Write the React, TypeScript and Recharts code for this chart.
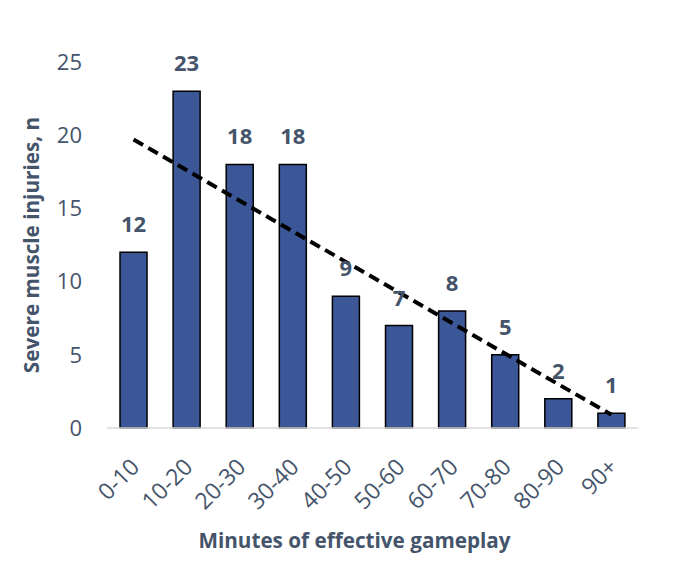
import React from 'react'
import { ComposedChart, Bar, Line, XAxis, YAxis, LabelList, Label } from 'recharts'

const categories = ['0-10', '10-20', '20-30', '30-40', '40-50', '50-60', '60-70', '70-80', '80-90', '90+']
const injuries = [12, 23, 18, 18, 9, 7, 8, 5, 2, 1]
// linear trend, read at its two ends; drawn straight between them
const trend: (number | null)[] = [19.7, null, null, null, null, null, null, null, null, 0.9]
const yTicks = [0, 5, 10, 15, 20, 25]

const TEXT = '#44546A'
const FONT = '"Open Sans", Calibri, sans-serif'

const data = categories.map((name, i) => ({ name, injuries: injuries[i], trend: trend[i] }))

function XTick({ x, y, payload }: any) {
  const ax = x + 1
  const ay = y + 26
  return (
    <text
      x={ax}
      y={ay}
      transform={`rotate(-45 ${ax} ${ay})`}
      textAnchor="end"
      dominantBaseline="central"
      fill={TEXT}
      fontSize={23}
      fontFamily={FONT}
    >
      {payload.value}
    </text>
  )
}

export default function App() {
  return (
    <div style={{ position: 'absolute', left: 0, top: 0, background: '#fff' }}>
      <ComposedChart
        width={680}
        height={584}
        data={data}
        margin={{ top: 62, right: 42, bottom: 0, left: 0 }}
        barCategoryGap="24.5%"
      >
        <XAxis
          dataKey="name"
          height={156}
          tick={<XTick />}
          tickLine={false}
          axisLine={{ stroke: '#D9D9D9', strokeWidth: 1.5 }}
          interval={0}
        >
          <Label
            content={({ viewBox }: any) => (
              <text
                x={viewBox.x + viewBox.width / 2 - 18}
                y={540}
                textAnchor="middle"
                dominantBaseline="central"
                fill={TEXT}
                fontSize={20.7}
                fontWeight="bold"
                fontFamily={FONT}
              >
                Minutes of effective gameplay
              </text>
            )}
          />
        </XAxis>
        <YAxis
          width={107}
          domain={[0, 25]}
          ticks={yTicks}
          tickLine={false}
          axisLine={false}
          tickSize={0}
          tickMargin={25}
          tick={{ fill: TEXT, fontSize: 22, fontFamily: FONT }}
        >
          <Label
            content={({ viewBox }: any) => {
              const cy = viewBox.y + viewBox.height / 2
              return (
                <text
                  x={31}
                  y={cy}
                  transform={`rotate(-90 31 ${cy})`}
                  textAnchor="middle"
                  dominantBaseline="central"
                  fill={TEXT}
                  fontSize={20.7}
                  fontWeight="bold"
                  fontFamily={FONT}
                >
                  Severe muscle injuries, n
                </text>
              )
            }}
          />
        </YAxis>
        <Bar dataKey="injuries" fill="#3B5797" stroke="#000" strokeWidth={1.5} isAnimationActive={false}>
          <LabelList
            dataKey="injuries"
            position="top"
            offset={20}
            fill={TEXT}
            fontSize={22}
            fontWeight="bold"
            fontFamily={FONT}
          />
        </Bar>
        <Line
          dataKey="trend"
          type="linear"
          stroke="#000"
          strokeWidth={4}
          strokeDasharray="11 6"
          dot={false}
          activeDot={false}
          connectNulls
          isAnimationActive={false}
        />
      </ComposedChart>
    </div>
  )
}
